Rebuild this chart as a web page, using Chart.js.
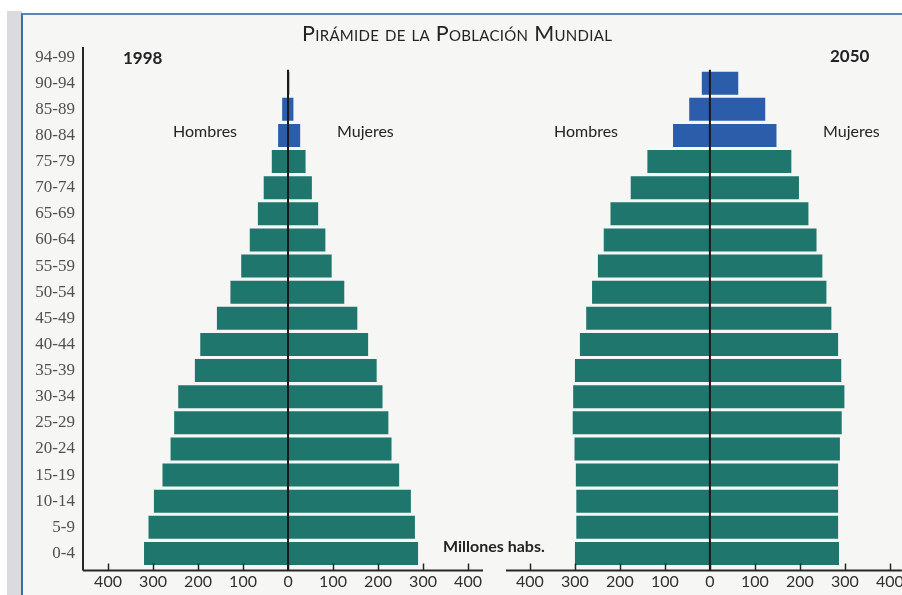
<!DOCTYPE html>
<html>
<head>
<meta charset="utf-8">
<script src="https://cdn.jsdelivr.net/npm/chart.js@4.4.0/dist/chart.umd.min.js"></script>
<style>
  html, body { margin: 0; padding: 0; width: 902px; height: 595px; overflow: hidden; background: #fff; }
  .strip { position: absolute; left: 7px; top: 11px; width: 15px; height: 584px; background: #dadadf; }
  .paper { position: absolute; left: 21px; top: 13px; width: 900px; height: 600px; background: #f6f6f5;
           border-top: 2px solid #5a86b9; border-left: 2px solid #3d6ca8; }
  canvas { position: absolute; top: 0; }
  #left { left: 0; }
  #right { left: 500px; }
  .txt { position: absolute; font-family: Lato, sans-serif; color: #232323; white-space: nowrap; }
  .title { left: 302px; top: 20px; font-size: 21.5px; font-variant: small-caps; letter-spacing: 0.3px; }
  .year { font-weight: bold; font-size: 17px; }
  .side { font-size: 16px; top: 121px; }
  .units { left: 443px; top: 536px; font-size: 16px; font-weight: bold; }
</style>
</head>
<body>
<div class="strip"></div>
<div class="paper"></div>
<canvas id="left" width="490" height="595"></canvas>
<canvas id="right" width="410" height="595"></canvas>

<div class="txt title">Pirámide de la Población Mundial</div>
<div class="txt year" style="left:123px; top:47px;">1998</div>
<div class="txt year" style="left:830px; top:45px;">2050</div>
<div class="txt side" style="left:173px;">Hombres</div>
<div class="txt side" style="left:337px;">Mujeres</div>
<div class="txt side" style="left:554px;">Hombres</div>
<div class="txt side" style="left:823px;">Mujeres</div>
<div class="txt units">Millones habs.</div>

<script>
// age groups, bottom to top
const ageGroups = ['0-4', '5-9', '10-14', '15-19', '20-24', '25-29', '30-34', '35-39', '40-44', '45-49',
  '50-54', '55-59', '60-64', '65-69', '70-74', '75-79', '80-84', '85-89', '90-94', '94-99'];

// millions of people
const men1998   = [320, 310, 298, 279, 261, 253, 244, 207, 195, 158, 128, 104, 85, 67, 54, 36, 22, 13, 2, 0];
const women1998 = [289, 282, 273, 247, 230, 223, 210, 197, 178, 154, 125, 97, 83, 67, 53, 39, 27, 12, 3, 0];
const men2050   = [300, 297, 297, 298, 301, 305, 304, 300, 289, 275, 262, 249, 236, 221, 176, 139, 82, 46, 18, 0];
const women2050 = [287, 285, 285, 285, 289, 293, 299, 292, 285, 270, 259, 250, 237, 219, 198, 181, 148, 123, 63, 0];

const xTicks = [-400, -300, -200, -100, 0, 100, 200, 300, 400];

const teal = '#1f766c';
const blue = '#2b5daa';
const firstOldGroup = 16; // 80-84 and older drawn in blue
const barColors = ageGroups.map((g, i) => i >= firstOldGroup ? blue : teal);

const axisLines = {
  id: 'axisLines',
  afterDatasetsDraw(chart, args, opts) {
    const { ctx, chartArea, scales: { x } } = chart;
    const axisY = chartArea.bottom + 4;
    ctx.save();
    ctx.strokeStyle = '#262626';
    ctx.lineWidth = 2;
    ctx.beginPath();
    ctx.moveTo(chartArea.left, axisY);
    ctx.lineTo(chartArea.right, axisY);
    ctx.stroke();

    ctx.lineWidth = 1.5;
    x.ticks.forEach(t => {
      const px = Math.round(x.getPixelForValue(t.value)) + 0.5;
      ctx.beginPath();
      ctx.moveTo(px, axisY);
      ctx.lineTo(px, axisY - 7);
      ctx.stroke();
    });

    // centre line, from the top of the 90-94 bar down to the axis
    const topBar = chart.getDatasetMeta(0).data[opts.topIndex];
    const zx = x.getPixelForValue(0);
    ctx.lineWidth = 2;
    ctx.strokeStyle = '#1a1a1a';
    ctx.beginPath();
    ctx.moveTo(zx, topBar.y - topBar.height / 2 - 2);
    ctx.lineTo(zx, axisY);
    ctx.stroke();

    if (opts.yLine) {
      ctx.lineWidth = 2;
      ctx.strokeStyle = '#262626';
      ctx.beginPath();
      ctx.moveTo(chartArea.left, chartArea.top + 3);
      ctx.lineTo(chartArea.left, axisY);
      ctx.stroke();
    }
    ctx.restore();
  }
};

function pyramid(canvasId, men, women, opt) {
  return new Chart(document.getElementById(canvasId), {
    type: 'bar',
    data: {
      labels: ageGroups,
      datasets: [
        { label: 'Hombres', data: men.map(v => -v), backgroundColor: barColors },
        { label: 'Mujeres', data: women, backgroundColor: barColors }
      ]
    },
    options: {
      indexAxis: 'y',
      responsive: false,
      animation: false,
      events: [],
      layout: { padding: opt.padding },
      datasets: { bar: { barPercentage: 0.88, categoryPercentage: 1, borderWidth: 0 } },
      plugins: {
        legend: { display: false },
        tooltip: { enabled: false },
        axisLines: { topIndex: 18, yLine: opt.showY }
      },
      scales: {
        x: {
          stacked: true,
          min: opt.xMin,
          max: opt.xMax,
          afterBuildTicks: s => { s.ticks = xTicks.map(v => ({ value: v })); },
          afterFit: s => { s.height = 28.5; },
          grid: { display: false, drawTicks: false },
          border: { display: false },
          ticks: {
            padding: 6,
            color: '#303030',
            font: { family: 'Lato', size: 16 },
            callback: v => Math.abs(v)
          }
        },
        y: {
          stacked: true,
          reverse: true,
          display: opt.showY,
          afterFit: s => { s.width = opt.yWidth; },
          grid: { display: false, drawTicks: false },
          border: { display: false },
          ticks: {
            padding: 8,
            color: '#505050',
            font: { family: 'Liberation Serif', size: 17 }
          }
        }
      }
    },
    plugins: [axisLines]
  });
}

pyramid('left', men1998, women1998, {
  showY: true, yWidth: 83, xMin: -455.6, xMax: 433.3,
  padding: { top: 44, right: 7, left: 0, bottom: 0 }
});

pyramid('right', men2050, women2050, {
  showY: false, yWidth: 0, xMin: -453.3, xMax: 426.7,
  padding: { top: 44, right: 8, left: 6, bottom: 0 }
});
</script>
</body>
</html>
